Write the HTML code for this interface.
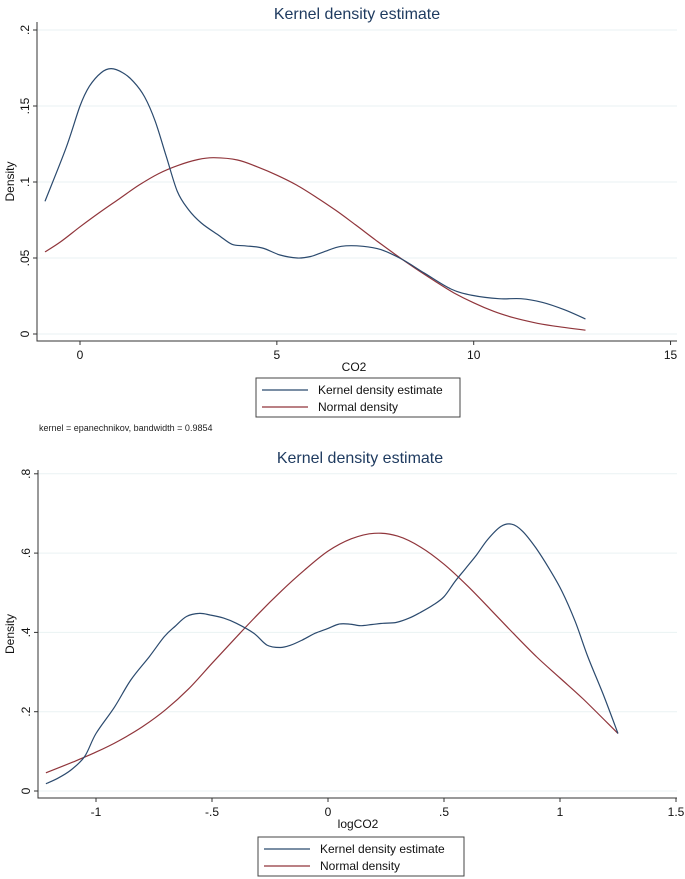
<!DOCTYPE html>
<html><head><meta charset="utf-8">
<style>
html,body{margin:0;padding:0;background:#fff;}
svg{display:block;font-family:"Liberation Sans",sans-serif;}
</style></head>
<body>
<svg id="c" width="685" height="879" viewBox="0 0 685 879"></svg>
<script>
// ---- Top chart data (CO2) ----
const topKdeX = [-0.89,-0.36,0,0.24,0.54,0.79,1.08,1.36,1.64,1.91,2.19,2.47,2.75,3.08,3.52,3.86,4.19,4.63,5.08,5.52,5.86,6.19,6.64,7.19,7.64,8.19,8.75,9.42,9.97,10.64,11.2,11.75,12.3,12.84];
const topKdeY = [0.0873,0.122,0.150,0.163,0.172,0.1746,0.172,0.166,0.156,0.140,0.117,0.094,0.082,0.073,0.065,0.059,0.058,0.0566,0.052,0.050,0.051,0.054,0.0577,0.0577,0.0555,0.049,0.040,0.0296,0.0254,0.0232,0.0232,0.0208,0.016,0.0099];
const topNormX = [-0.89,-0.5,0,0.5,1,1.5,2,2.5,3,3.4,4,4.5,5,5.5,6,6.5,7,7.5,8,8.5,9,9.5,10,10.5,11,11.5,12,12.84];
const topNormY = [0.054,0.0605,0.0705,0.080,0.089,0.098,0.1055,0.111,0.1148,0.116,0.1145,0.110,0.1045,0.098,0.090,0.0813,0.0718,0.062,0.0525,0.0435,0.035,0.027,0.0205,0.015,0.0108,0.0077,0.0054,0.0025];
const topXTicks = [0,5,10,15];
const topYTicks = [0,0.05,0.1,0.15,0.2];
const topYLabels = ["0",".05",".1",".15",".2"];

// ---- Bottom chart data (logCO2) ----
const botKdeX = [-1.216,-1.168,-1.11,-1.05,-1.0,-0.92,-0.85,-0.77,-0.706,-0.66,-0.61,-0.555,-0.508,-0.45,-0.395,-0.32,-0.263,-0.206,-0.16,-0.11,-0.055,0,0.047,0.094,0.14,0.19,0.236,0.293,0.35,0.397,0.453,0.5,0.547,0.594,0.641,0.688,0.745,0.792,0.839,0.896,0.952,1.009,1.066,1.12,1.19,1.25];
const botKdeY = [0.0185,0.031,0.052,0.086,0.145,0.212,0.28,0.339,0.389,0.415,0.44,0.448,0.444,0.436,0.423,0.398,0.368,0.362,0.368,0.381,0.398,0.41,0.421,0.421,0.417,0.42,0.423,0.425,0.436,0.45,0.469,0.49,0.528,0.562,0.596,0.634,0.667,0.673,0.655,0.613,0.562,0.503,0.427,0.339,0.238,0.145];
const botNormX = [-1.216,-1.1,-1.0,-0.9,-0.8,-0.7,-0.6,-0.5,-0.4,-0.3,-0.2,-0.1,0,0.1,0.2,0.3,0.4,0.5,0.6,0.7,0.8,0.9,1.0,1.1,1.25];
const botNormY = [0.046,0.073,0.098,0.127,0.162,0.205,0.258,0.322,0.385,0.447,0.505,0.558,0.605,0.636,0.65,0.643,0.615,0.572,0.518,0.458,0.397,0.338,0.285,0.232,0.145];
const botXTicks = [-1,-0.5,0,0.5,1,1.5];
const botXLabels = ["-1","-.5","0",".5","1","1.5"];
const botYTicks = [0,0.2,0.4,0.6,0.8];
const botYLabels = ["0",".2",".4",".6",".8"];

const NS="http://www.w3.org/2000/svg";
const svg=document.getElementById('c');
function mk(tag,attrs,parent){const e=document.createElementNS(NS,tag);for(const k in attrs)e.setAttribute(k,attrs[k]);(parent||svg).appendChild(e);return e;}

function smooth(p){
  let d=`M${p[0][0].toFixed(1)} ${p[0][1].toFixed(1)}`;
  for(let i=0;i<p.length-1;i++){
    const p0=p[i-1]||p[i],p1=p[i],p2=p[i+1],p3=p[i+2]||p2;
    const c1=[p1[0]+(p2[0]-p0[0])/6,p1[1]+(p2[1]-p0[1])/6];
    const c2=[p2[0]-(p3[0]-p1[0])/6,p2[1]-(p3[1]-p1[1])/6];
    d+=` C${c1[0].toFixed(1)} ${c1[1].toFixed(1)} ${c2[0].toFixed(1)} ${c2[1].toFixed(1)} ${p2[0].toFixed(1)} ${p2[1].toFixed(1)}`;
  }
  return d;
}

function chart(o){
  const g=mk('g',{});
  
  
  const sx=v=>o.x0px+(v-o.x0v)*o.xpx;
  const sy=v=>o.y0px-v*o.ypx;
  o.yTicks.forEach((t,i)=>{
    const l=mk('line',{x1:o.left,x2:o.right,y1:sy(t),y2:sy(t),stroke:'#eaf2f3','stroke-width':1},g);
    
    
    const tk=mk('line',{x1:o.left-4,x2:o.left,y1:sy(t),y2:sy(t),stroke:'#333','stroke-width':1},g);
    
    
    const tx=mk('text',{x:o.left-8,y:sy(t),'font-size':12,fill:'#111','text-anchor':'middle',transform:`rotate(-90 ${o.left-8} ${sy(t)})`},g);
    tx.textContent=o.yLabels[i];
    
    
  });
  o.xTicks.forEach((t,i)=>{
    const tk=mk('line',{x1:sx(t),x2:sx(t),y1:o.bottom,y2:o.bottom+4,stroke:'#333','stroke-width':1},g);
    
    
    const tx=mk('text',{x:sx(t),y:o.bottom+18,'font-size':12,fill:'#111','text-anchor':'middle'},g);
    tx.textContent=o.xLabels[i];
    
    
  });
  const ax=mk('path',{d:`M${o.left} ${o.top} V${o.bottom} H${o.right}`,fill:'none',stroke:'#333','stroke-width':1},g);
  
  
  const pts=(xs,ys)=>xs.map((x,i)=>[sx(x),sy(ys[i])]);
  const n=mk('path',{d:smooth(pts(o.nX,o.nY)),fill:'none',stroke:'#90353b','stroke-width':1.2},g);
  
  
  const k=mk('path',{d:smooth(pts(o.kX,o.kY)),fill:'none',stroke:'#2b4a6e','stroke-width':1.2},g);
  
  
  const ti=mk('text',{x:o.titleX,y:o.titleY,'font-size':16,fill:'#1e3a5f','text-anchor':'middle'},g);
  ti.textContent='Kernel density estimate';
  
  
  const yt=mk('text',{x:14,y:(o.top+o.bottom)/2,'font-size':12,fill:'#111','text-anchor':'middle',transform:`rotate(-90 14 ${(o.top+o.bottom)/2})`},g);
  yt.textContent='Density';
  
  
  const xt=mk('text',{x:o.xTitleX,y:o.xTitleY,'font-size':12,fill:'#111','text-anchor':'middle'},g);
  xt.textContent=o.xTitle;
  
  
  const L=o.leg;
  const lg=mk('g',{},g);
  
  
  mk('rect',{x:L.x,y:L.y,width:L.w,height:L.h,fill:'#fff',stroke:'#444','stroke-width':1},lg);
  mk('line',{x1:L.x+6,x2:L.x+52,y1:L.y+12,y2:L.y+12,stroke:'#2b4a6e','stroke-width':1.2},lg);
  mk('line',{x1:L.x+6,x2:L.x+52,y1:L.y+29,y2:L.y+29,stroke:'#90353b','stroke-width':1.2},lg);
  const t1=mk('text',{x:L.x+62,y:L.y+16,'font-size':12,fill:'#111'},lg);
  t1.textContent='Kernel density estimate';
  
  
  const t2=mk('text',{x:L.x+62,y:L.y+33,'font-size':12,fill:'#111'},lg);
  t2.textContent='Normal density';
  
  
}

chart({name:'co2-chart',left:37,right:677,top:22,bottom:341,x0px:80,x0v:0,xpx:39.37,y0px:334,ypx:1520,
  xTicks:topXTicks,xLabels:topXTicks.map(String),yTicks:topYTicks,yLabels:topYLabels,
  kX:topKdeX,kY:topKdeY,nX:topNormX,nY:topNormY,titleX:357,titleY:19,xTitle:'CO2',xTitleX:354,xTitleY:371,
  leg:{x:256,y:378,w:204,h:39}});
const note=mk('text',{x:39,y:431,'font-size':9,fill:'#222'});
note.textContent='kernel = epanechnikov, bandwidth = 0.9854';



chart({name:'logco2-chart',left:38,right:677,top:470,bottom:798,x0px:328,x0v:0,xpx:232,y0px:791,ypx:396.5,
  xTicks:botXTicks,xLabels:botXLabels,yTicks:botYTicks,yLabels:botYLabels,
  kX:botKdeX,kY:botKdeY,nX:botNormX,nY:botNormY,titleX:360,titleY:463,xTitle:'logCO2',xTitleX:358,xTitleY:828,
  leg:{x:258,y:837,w:206,h:39}});
</script>
</body></html>
